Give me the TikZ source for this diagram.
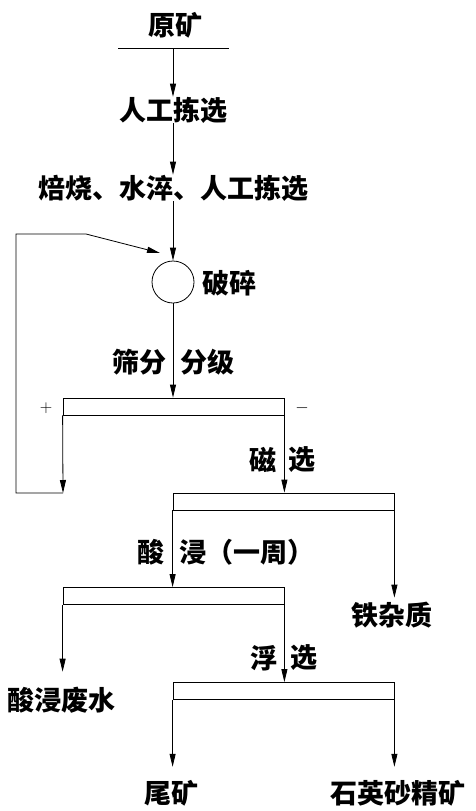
\documentclass[tikz,border=0pt]{standalone}
\usepackage{fontspec}
\newfontfamily\cjk{Noto Sans CJK SC}
\usetikzlibrary{arrows.meta}
\begin{document}
\begin{tikzpicture}[x=1pt,y=-1pt,
  lbl/.style={font=\cjk\bfseries\fontsize{27}{27}\selectfont, inner sep=0pt, minimum height=26pt},
  sym/.style={font=\fontsize{16}{16}\selectfont, inner sep=0pt},
  arr/.style={-{Stealth[inset=0pt,length=13pt,width=6pt]}, line width=0.8pt},
  ln/.style={line width=0.8pt},
  sbox/.style={draw, line width=0.8pt, minimum width=221pt, minimum height=17pt, inner sep=0pt},
  crusher/.style={draw, circle, line width=0.8pt, minimum size=42pt, inner sep=0pt}]
\useasboundingbox (0,0) rectangle (476,811);
% feed
\node[lbl] (ore) at (175,25) {原矿};
\coordinate (tl) at (118,48);
\coordinate (tr) at (229,48);
\coordinate (tm) at (173,48);
\draw[ln] (tl) -- (tr);
\node[lbl] (pick) at (173,110) {人工拣选};
\node[lbl] (roast) at (173,188) {焙烧、水淬、人工拣选};
\node[crusher] (c) at (173,282) {};
\node[lbl] (crushl) at (229,283) {破碎};
\draw[arr] (tm) -- (pick.north);
\draw[arr] (pick.south) -- (roast.north);
\draw[arr] (roast.south) -- (c.north);
% screening
\node[sbox] (s1) at (173.5,406.5) {};
\node[lbl] (sc1) at (139,362) {筛分};
\node[lbl] (sc2) at (207,362) {分级};
\draw[arr] (c.south) -- (c.south |- s1.north);
\node[sym] (plus) at (46,408) {$+$};
\node[sym] (minus) at (302,408) {$-$};
% feedback loop
\coordinate (fb1) at (63,493);
\coordinate (fb2) at (16,493);
\coordinate (fb3) at (16,234);
\coordinate (fb4) at (86,234);
\coordinate (fb5) at (160,253);
\draw[arr] (s1.south west) -- (fb1);
\draw[arr] (fb1) -- (fb2) -- (fb3) -- (fb4) -- (fb5);
% magnetic separation
\node[sbox] (b2) at (283.5,501.5) {};
\node[lbl] (m1) at (263,460) {磁};
\node[lbl] (m2) at (302,460) {选};
\draw[arr] (s1.south east) -- (s1.south east |- b2.north);
\node[lbl] (fe) at (392,615) {铁杂质};
\draw[arr, shorten >=4pt] (b2.south east) -- (b2.south east |- fe.north);
% acid leaching
\node[sbox] (b3) at (173.5,596) {};
\node[lbl] (a1) at (151,552) {酸};
\node[lbl, anchor=west] (a2) at (179,552) {浸（一周）};
\draw[arr] (b2.south west) -- (b2.south west |- b3.north);
\node[lbl] (waste) at (62,700) {酸浸废水};
\draw[arr, shorten >=15pt] (b3.south west) -- (b3.south west |- waste.north);
% flotation
\node[sbox] (b4) at (283.5,691) {};
\node[lbl] (f1) at (264,658) {浮};
\node[lbl] (f2) at (304,658) {选};
\draw[arr] (b3.south east) -- (b3.south east |- b4.north);
\node[lbl] (tail) at (171,793) {尾矿};
\node[lbl] (conc) at (398,793) {石英砂精矿};
\draw[arr, shorten >=13pt] (b4.south west) -- (b4.south west |- tail.north);
\draw[arr, shorten >=13pt] (b4.south east) -- (b4.south east |- conc.north);
\end{tikzpicture}
\end{document}
